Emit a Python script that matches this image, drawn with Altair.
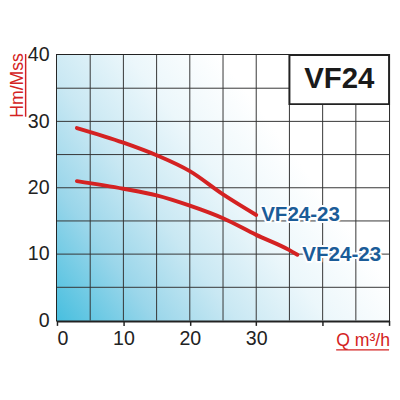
import altair as alt
import pandas as pd

# ---- data ----
q_upper = [3, 10, 15, 20, 25, 30]
h_upper = [29.0, 26.8, 24.9, 22.5, 19.0, 15.9]
q_lower = [3, 10, 15, 20, 25, 30, 35, 36.2]
h_lower = [21.0, 19.85, 18.85, 17.3, 15.4, 12.9, 10.6, 9.9]
curve_names = ["VF24-23 (a)", "VF24-23 (b)"]
label_text = ["VF24-23", "VF24-23"]
grid_x = [5, 10, 15, 20, 25, 30, 35, 40, 45]
grid_y = [5, 10, 15, 20, 25, 30, 35]
x_ticks = [0, 10, 20, 30, 40, 50]
y_ticks = [0, 10, 20, 30, 40]
model = "VF24"

W, H = 339, 271
FONT = "Liberation Sans, Arial"
RED = "#d42222"
BLUE = "#1b5c98"

curves = pd.concat([
    pd.DataFrame({"q": q_upper, "h": h_upper, "curve": curve_names[0]}),
    pd.DataFrame({"q": q_lower, "h": h_lower, "curve": curve_names[1]}),
])
labels = pd.DataFrame({
    "q": [q_upper[-1], q_lower[-1]],
    "h": [h_upper[-1], h_lower[-1]],
    "text": label_text,
})

xs = alt.Scale(domain=[0, 50], nice=False, zero=False)
ys = alt.Scale(domain=[0, 40], nice=False, zero=False)

x_axis = alt.Axis(values=x_ticks, grid=False, tickSize=5, tickColor="#222", tickWidth=1.5,
                  domainColor="#222", domainWidth=3, labelFont=FONT, labelFontSize=20,
                  labelColor="#222", labelPadding=4, title=None,
                  labelExpr="datum.value <= 30 ? datum.label : ''")
y_axis = alt.Axis(values=y_ticks, grid=False, tickSize=0, domainColor="#222", domainWidth=3,
                  labelFont=FONT, labelFontSize=20, labelColor="#222", labelPadding=8,
                  title=None)

grad = alt.LinearGradient(
    gradient="linear", x1=0, y1=1, x2=1, y2=0.4,
    stops=[alt.GradientStop(color="#48bfdf", offset=0),
           alt.GradientStop(color="#9ad6ea", offset=0.22),
           alt.GradientStop(color="#c9e8f3", offset=0.4),
           alt.GradientStop(color="#ecf7fb", offset=0.6),
           alt.GradientStop(color="#ffffff", offset=0.8)])

bg = alt.Chart(pd.DataFrame({"a": [0]})).mark_rect(fill=grad, strokeWidth=0).encode(
    x=alt.value(0), x2=alt.value(W), y=alt.value(0), y2=alt.value(H))

vgrid = alt.Chart(pd.DataFrame({"g": grid_x})).mark_rule(color="#333", strokeWidth=1).encode(
    x=alt.X("g:Q", scale=xs, axis=x_axis), y=alt.value(0), y2=alt.value(H))
hgrid = alt.Chart(pd.DataFrame({"g": grid_y})).mark_rule(color="#333", strokeWidth=1).encode(
    y=alt.Y("g:Q", scale=ys, axis=y_axis), x=alt.value(0), x2=alt.value(W))

lines = alt.Chart(curves).mark_line(color=RED, strokeWidth=4, interpolate="monotone",
                                    strokeCap="round").encode(
    x=alt.X("q:Q", scale=xs), y=alt.Y("h:Q", scale=ys), detail="curve:N")

halo = alt.Chart(labels).mark_text(align="left", baseline="middle", font=FONT, dx=5,
                                   fontWeight="bold", fontSize=21, stroke="white",
                                   strokeWidth=4, strokeJoin="round", fill="white").encode(
    x=alt.X("q:Q", scale=xs), y=alt.Y("h:Q", scale=ys), text="text:N")
txt = alt.Chart(labels).mark_text(align="left", baseline="middle", font=FONT, dx=5,
                                  fontWeight="bold", fontSize=21, color=BLUE).encode(
    x=alt.X("q:Q", scale=xs), y=alt.Y("h:Q", scale=ys), text="text:N")

box = alt.Chart(pd.DataFrame({"t": [model]})).mark_rect(fill="white", stroke="#222",
                                                        strokeWidth=2).encode(
    x=alt.datum(35, scale=xs), x2=alt.datum(50), y=alt.datum(32.6, scale=ys), y2=alt.datum(40))
box_txt = alt.Chart(pd.DataFrame({"t": [model]})).mark_text(
    font=FONT, fontWeight="bold", fontSize=30, color="#1a1a1a",
    align="center", baseline="middle").encode(
    x=alt.datum(42.5, scale=xs), y=alt.datum(36.3, scale=ys), text="t:N")

ytitle = alt.Chart(pd.DataFrame({"t": ["Hm/Mss"]})).mark_text(
    font=FONT, fontSize=18, color=RED, angle=270, align="center", baseline="middle").encode(
    x=alt.value(-40), y=alt.value(31), text="t:N")
ytitle_ul = alt.Chart(pd.DataFrame({"t": ["Hm/Mss"]})).mark_rule(color=RED, strokeWidth=1.5).encode(
    x=alt.value(-32), y=alt.value(-1), y2=alt.value(63))
xtitle = alt.Chart(pd.DataFrame({"t": ["Q m³/h"]})).mark_text(
    font=FONT, fontSize=18, color=RED, align="left", baseline="alphabetic").encode(
    x=alt.value(285), y=alt.value(297), text="t:N")
xtitle_ul = alt.Chart(pd.DataFrame({"t": ["Q m³/h"]})).mark_rule(color=RED, strokeWidth=1.5).encode(
    x=alt.value(285), x2=alt.value(339), y=alt.value(301))

chart = alt.layer(bg, vgrid, hgrid, lines, halo, txt, box, box_txt,
                  ytitle, ytitle_ul, xtitle, xtitle_ul).properties(
    width=W, height=H,
    autosize=alt.AutoSizeParams(type="none"),
    padding={"left": 50, "top": 44, "right": 3, "bottom": 69},
    background="white",
).configure_view(stroke="#222", strokeWidth=2)

chart.save("out.html", embed_options={"renderer": "svg", "actions": False})
